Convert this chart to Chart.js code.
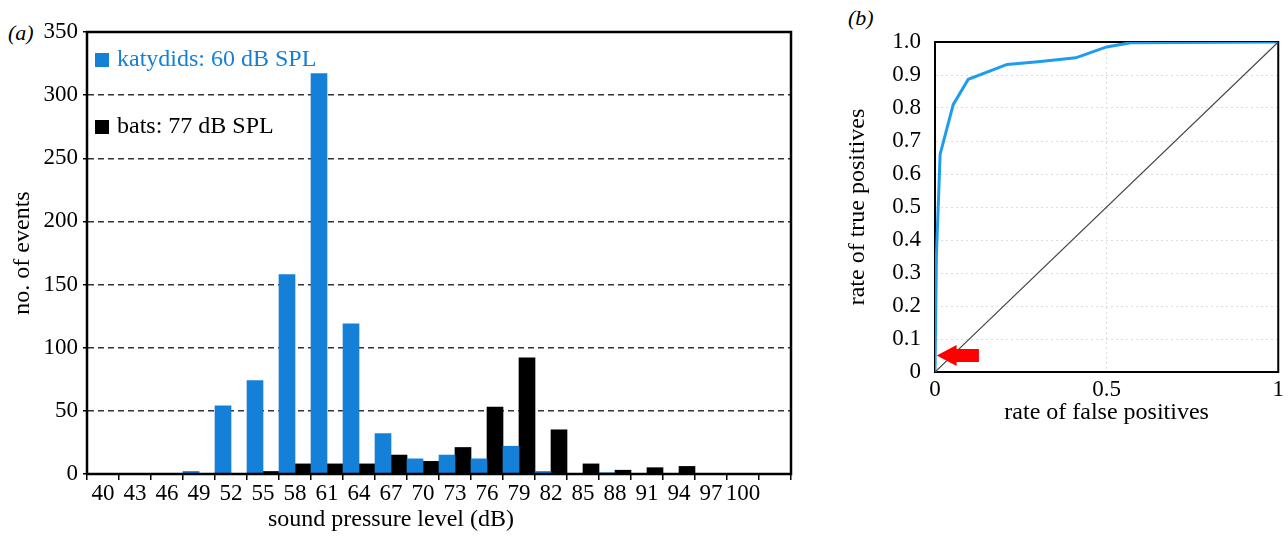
<!DOCTYPE html>
<html>
<head>
<meta charset="utf-8">
<script src="https://cdn.jsdelivr.net/npm/chart.js@4.4.9/dist/chart.umd.min.js"></script>
<style>
  html, body { margin: 0; padding: 0; background: #fff; }
  body { width: 1288px; height: 537px; position: relative; overflow: hidden; font-family: "Liberation Serif", "Times New Roman", serif; }
  #histChart { position: absolute; left: 0; top: 0; }
  #rocChart { position: absolute; left: 820px; top: 0; }
  .panel-tag { position: absolute; font-style: italic; font-size: 22px; line-height: 1; color: #000; }
</style>
</head>
<body>
<div class="panel-tag" style="left:8px; top:22px">(a)</div>
<div class="panel-tag" style="left:848px; top:7px">(b)</div>
<canvas id="histChart" width="820" height="537"></canvas>
<canvas id="rocChart" width="468" height="537"></canvas>
<script>
// panel (a) histogram
const soundLevels = ["40", "43", "46", "49", "52", "55", "58", "61", "64", "67", "70", "73", "76", "79", "82", "85", "88", "91", "94", "97", "100", ""];
const katydidCounts = [0, 0, 0, 2, 54, 74, 158, 317, 119, 32, 12, 15, 12, 22, 2, 0, 1, 0, 0, 0, 0, 0];
const batCounts = [0, 0, 0, 0, 0, 2, 8, 8, 8, 15, 10, 21, 53, 92, 35, 8, 3, 5, 6, 0, 0, 0];

// panel (b) ROC curve
const rocFpr = [0, 0.004, 0.015, 0.053, 0.097, 0.21, 0.30, 0.41, 0.50, 0.57, 1];
const rocTpr = [0, 0.35, 0.66, 0.81, 0.887, 0.932, 0.94, 0.952, 0.985, 0.998, 1];
const chanceFpr = [0, 1];
const chanceTpr = [0, 1];
const rocXTicks = ["0", "0.5", "1"];
const rocYTicks = ["0", "0.1", "0.2", "0.3", "0.4", "0.5", "0.6", "0.7", "0.8", "0.9", "1.0"];
// red arrow: tip, neck and tail in data units
const arrowTip = [0.005, 0.05];
const arrowNeck = 0.063;
const arrowTail = 0.128;

const BLUE = "#1580d8";
const SERIF = "'Liberation Serif', 'Times New Roman', serif";

Chart.defaults.font.family = SERIF;
Chart.defaults.color = "#000";

function framePlugin(id, hook, width) {
  return {
    id: id,
    [hook](chart) {
      const { ctx, chartArea: a } = chart;
      ctx.save();
      ctx.strokeStyle = "#000";
      ctx.lineWidth = width;
      ctx.strokeRect(a.left, a.top, a.right - a.left, a.bottom - a.top);
      ctx.restore();
    },
  };
}

const histNotes = {
  id: "histNotes",
  afterDraw(chart) {
    const { ctx, chartArea: a } = chart;
    const items = [
      { text: "katydids: 60 dB SPL", color: BLUE, dy: 28 },
      { text: "bats: 77 dB SPL", color: "#000", dy: 95 },
    ];
    ctx.save();
    ctx.font = "24px " + SERIF;
    ctx.textBaseline = "middle";
    ctx.textAlign = "left";
    items.forEach((it) => {
      ctx.fillStyle = it.color;
      ctx.fillRect(a.left + 8, a.top + it.dy - 7, 14, 14);
      ctx.fillText(it.text, a.left + 30, a.top + it.dy);
    });
    // x axis title, sits left of the plot centre in the original
    ctx.fillStyle = "#000";
    ctx.textAlign = "center";
    ctx.fillText("sound pressure level (dB)", a.left + 304, 520);
    ctx.restore();
  },
};

new Chart(document.getElementById("histChart"), {
  type: "bar",
  data: {
    labels: soundLevels,
    datasets: [
      {
        label: "katydids: 60 dB SPL",
        data: katydidCounts,
        backgroundColor: BLUE,
        borderWidth: 0,
        barPercentage: 1,
        categoryPercentage: 1,
      },
      {
        label: "bats: 77 dB SPL",
        data: batCounts,
        backgroundColor: "#000",
        borderWidth: 0,
        barPercentage: 1,
        categoryPercentage: 1,
      },
    ],
  },
  options: {
    responsive: false,
    animation: false,
    devicePixelRatio: 1,
    layout: { padding: { left: 0, top: 32, right: 29, bottom: 0 } },
    plugins: { legend: { display: false }, tooltip: { enabled: false } },
    scales: {
      x: {
        ticks: { font: { size: 23 }, padding: 0, maxRotation: 0, minRotation: 0, autoSkip: false },
        grid: { offset: true, drawOnChartArea: false, drawTicks: true, tickLength: 6, color: "#000", tickColor: "#000", lineWidth: 1.5 },
        border: { display: true, color: "#000", width: 2 },
        afterFit: (s) => { s.height = 63; },
      },
      y: {
        min: 0,
        max: 350,
        ticks: { stepSize: 50, font: { size: 23 }, padding: 5 },
        grid: {
          color: (c) => (c.tick && (c.tick.value === 0 || c.tick.value === 350) ? "rgba(0,0,0,0)" : "#333"),
          tickColor: "#000",
          lineWidth: 1.5,
          tickLength: 4,
          tickBorderDash: [],
        },
        border: { display: true, color: "#000", width: 2, dash: [6, 4] },
        title: { display: true, text: "no. of events", font: { size: 24 }, padding: { top: 8, bottom: 0 } },
        afterFit: (s) => { s.width = 87; },
      },
    },
  },
  plugins: [framePlugin("histFrame", "afterDatasetsDraw", 2.5), histNotes],
});

const rocArrow = {
  id: "rocArrow",
  afterDatasetsDraw(chart) {
    const { ctx, scales } = chart;
    const tipX = scales.x.getPixelForValue(arrowTip[0]);
    const cy = scales.y.getPixelForValue(arrowTip[1]);
    const neckX = scales.x.getPixelForValue(arrowNeck);
    const tailX = scales.x.getPixelForValue(arrowTail);
    ctx.save();
    ctx.fillStyle = "#ff0000";
    ctx.beginPath();
    ctx.moveTo(tipX, cy);
    ctx.lineTo(neckX, cy - 10.5);
    ctx.lineTo(neckX, cy - 6.5);
    ctx.lineTo(tailX, cy - 6.5);
    ctx.lineTo(tailX, cy + 6.5);
    ctx.lineTo(neckX, cy + 6.5);
    ctx.lineTo(neckX, cy + 10.5);
    ctx.closePath();
    ctx.fill();
    ctx.restore();
  },
};

new Chart(document.getElementById("rocChart"), {
  type: "scatter",
  data: {
    datasets: [
      {
        label: "chance",
        data: chanceFpr.map((x, i) => ({ x: x, y: chanceTpr[i] })),
        showLine: true,
        borderColor: "#444",
        borderWidth: 1.2,
        pointRadius: 0,
      },
      {
        label: "ROC",
        data: rocFpr.map((x, i) => ({ x: x, y: rocTpr[i] })),
        showLine: true,
        borderColor: "#1e9cf0",
        borderWidth: 3,
        pointRadius: 0,
        tension: 0,
      },
    ],
  },
  options: {
    responsive: false,
    animation: false,
    devicePixelRatio: 1,
    layout: { padding: { left: 0, top: 42, right: 8, bottom: 110 } },
    plugins: { legend: { display: false }, tooltip: { enabled: false } },
    scales: {
      x: {
        type: "linear",
        min: 0,
        max: 1,
        ticks: { stepSize: 0.5, font: { size: 23 }, padding: 4, maxRotation: 0, callback: (v, i) => rocXTicks[i] },
        grid: { drawTicks: false, color: (c) => (c.tick && c.tick.value === 0.5 ? "#dcdcdc" : "rgba(0,0,0,0)"), lineWidth: 1 },
        border: { display: true, color: "#000", width: 2, dash: [2, 3] },
        title: { display: true, text: "rate of false positives", font: { size: 24 }, padding: { top: 0, bottom: 0 } },
        afterFit: (s) => { s.height = 55; },
      },
      y: {
        min: 0,
        max: 1,
        ticks: { stepSize: 0.1, font: { size: 23 }, padding: 14, callback: (v, i) => rocYTicks[i] },
        grid: {
          drawTicks: false,
          color: (c) => (c.tick && (c.index === 0 || c.index === 10) ? "rgba(0,0,0,0)" : "#dcdcdc"),
          lineWidth: 1,
        },
        border: { display: true, color: "#000", width: 2, dash: [2, 3] },
        title: { display: true, text: "rate of true positives", font: { size: 24 }, padding: { top: 23, bottom: 0 } },
        afterFit: (s) => { s.width = 115; },
      },
    },
  },
  plugins: [framePlugin("rocFrame", "beforeDatasetsDraw", 2), rocArrow],
});
</script>
</body>
</html>
